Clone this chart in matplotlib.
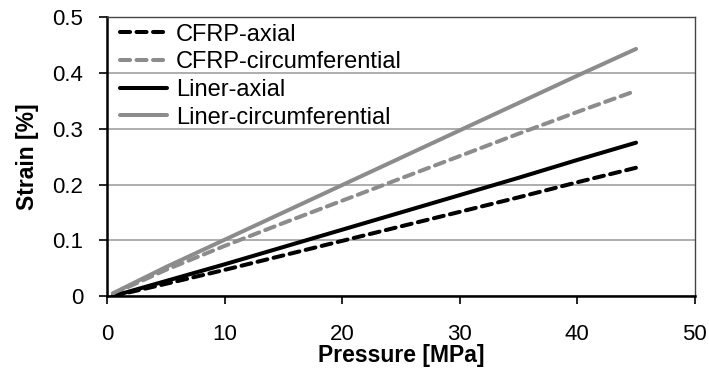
import matplotlib.pyplot as plt

plt.rcParams['font.family'] = ['Liberation Sans', 'DejaVu Sans']

# pressure [MPa] and strain [%]
pressure = [0.5, 5, 10, 15, 20, 25, 30, 35, 40, 45]
cfrp_axial = [0.0, 0.022, 0.047, 0.073, 0.099, 0.125, 0.151, 0.177, 0.204, 0.230]
cfrp_circ = [0.004, 0.047, 0.090, 0.131, 0.171, 0.211, 0.251, 0.291, 0.330, 0.368]
liner_axial = [0.0, 0.027, 0.057, 0.088, 0.119, 0.150, 0.181, 0.212, 0.244, 0.275]
liner_circ = [0.005, 0.052, 0.101, 0.150, 0.199, 0.248, 0.297, 0.346, 0.395, 0.443]

labels = ['CFRP-axial', 'CFRP-circumferential', 'Liner-axial', 'Liner-circumferential']
x_ticks = [0, 10, 20, 30, 40, 50]
y_ticks = [0, 0.1, 0.2, 0.3, 0.4, 0.5]

gray = '#8c8c8c'

fig = plt.figure(figsize=(7.09, 3.72), dpi=100)
ax = fig.add_axes([0.151, 0.204, 0.829, 0.750])

dash = (0, (2.5, 1.6))
kw = dict(lw=2.9, dash_capstyle='round', solid_capstyle='round')
ax.plot(pressure, cfrp_axial, color='black', ls=dash, label=labels[0], **kw)
ax.plot(pressure, cfrp_circ, color=gray, ls=dash, label=labels[1], **kw)
ax.plot(pressure, liner_axial, color='black', label=labels[2], **kw)
ax.plot(pressure, liner_circ, color=gray, label=labels[3], **kw)

ax.set_xlim(0, 50)
ax.set_ylim(0, 0.5)
ax.set_xticks(x_ticks)
ax.set_yticks(y_ticks)
ax.set_xticklabels([str(t) for t in x_ticks])
ax.set_yticklabels(['0', '0.1', '0.2', '0.3', '0.4', '0.5'])
ax.yaxis.grid(True, color='#a0a0a0', lw=1.2)
ax.set_axisbelow(True)

ax.tick_params(direction='out', length=6, width=1.2, labelsize=16)
ax.tick_params(axis='x', pad=14)
ax.tick_params(axis='y', pad=11)
for side in ['left', 'bottom']:
    ax.spines[side].set_linewidth(1.8)
for side in ['top', 'right']:
    ax.spines[side].set_linewidth(1.0)
    ax.spines[side].set_color('#444444')

ax.set_xlabel('Pressure [MPa]', fontsize=16.5, fontweight='bold', labelpad=-1)
ax.set_ylabel('Strain [%]', fontsize=16.5, fontweight='bold', labelpad=10)

ax.legend(loc='upper left', bbox_to_anchor=(0.01, 1.0), frameon=False,
          fontsize=17, handlelength=2.0, handletextpad=0.4,
          labelspacing=0.24, borderpad=0.28, borderaxespad=0)

fig.savefig('out.png', dpi=100)
